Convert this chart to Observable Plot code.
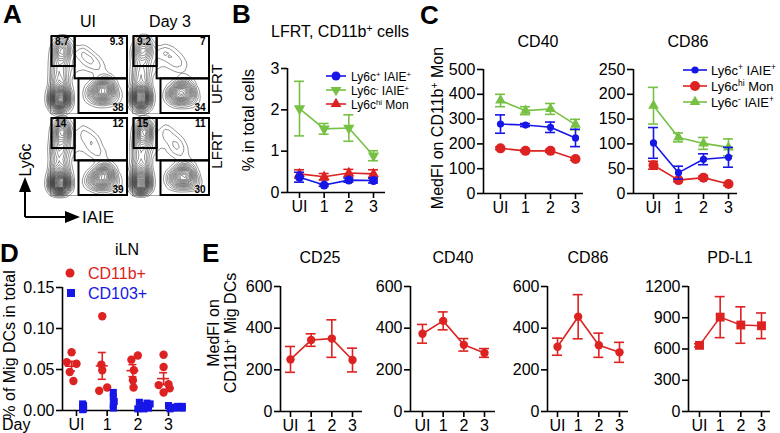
<!DOCTYPE html>
<html><head><meta charset="utf-8">
<script src="https://cdn.jsdelivr.net/npm/d3@7"></script>
<script src="https://cdn.jsdelivr.net/npm/@observablehq/plot@0.6"></script>
<style>
body{margin:0;background:#fff;font-family:"Liberation Sans",Arial,sans-serif;}
#fig{position:relative;width:780px;height:433px;overflow:hidden;background:#fff;}
.abs{position:absolute;}
</style></head>
<body><div id="fig"></div>
<script>
// ---------------- DATA ----------------
const days = ["UI", "1", "2", "3"];
const RED = "#dd2222", BLUE = "#1616e6", GREEN = "#76c144";

// Panel A: flow gates (frequencies) for panels UI/UFRT, Day3/UFRT, UI/LFRT, Day3/LFRT
const flowCols = ["UI", "Day 3"];
const flowRows = ["UFRT", "LFRT"];
const flowPanelCol = ["UI", "Day 3", "UI", "Day 3"];
const flowPanelRow = ["UFRT", "UFRT", "LFRT", "LFRT"];
const gateLy6cHi = ["8.7", "9.2", "14", "15"];
const gateLy6cPosIAIE = ["9.3", "7", "12", "11"];
const gateLy6cNegIAIE = ["38", "34", "39", "30"];
// contour peaks per panel: [IAIE, Ly6c, weight]
const contourPeaks = [
  [[12,14,4],[12,20,4],[12,27,2],[12,35,1.2],[12,44,1],[12,53,1],[12,62,1],[13,71,1.2],[14,80,1.6],[15,88,1.6],
   [60,30,1.5],[68,33,1.8],[75,30,1.6],[66,22,1.4],[55,24,1],[80,22,1],[72,40,1],
   [35,80,0.5],[45,76,0.5],[55,70,0.5],[62,60,0.4],[30,60,0.3],[48,62,0.3]],
  [[11,15,3.6],[11,21,3.6],[11,28,1.8],[11,36,1.1],[11,45,1],[12,54,0.9],[12,63,0.9],[13,72,1.1],[13,81,1.5],[14,89,1.5],
   [56,28,1.4],[64,30,1.6],[71,27,1.5],[62,20,1.3],[52,22,0.9],[76,20,0.9],[68,37,0.9],
   [36,80,0.5],[46,78,0.5],[56,72,0.4],[64,62,0.4],[30,62,0.3],[50,64,0.3]],
  [[12,12,4],[12,18,4],[12,25,2],[12,33,1.2],[12,42,1],[12,51,1],[12,60,1.1],[13,69,1.4],[14,79,2],[14,88,2.2],
   [60,24,1.5],[68,27,1.8],[75,24,1.6],[66,16,1.4],[55,18,1],[80,16,1],[72,34,1],
   [38,82,0.5],[48,76,0.5],[56,68,0.5],[64,54,0.5],[30,62,0.3],[50,60,0.3]],
  [[11,13,3.6],[11,19,3.6],[11,26,1.8],[11,34,1.1],[11,43,1],[12,52,1],[12,61,1.1],[13,70,1.4],[14,80,2],[15,88,2.4],
   [58,26,1.4],[66,28,1.6],[73,25,1.5],[64,18,1.3],[53,20,0.9],[78,18,0.9],[70,36,0.9],
   [40,82,0.5],[50,76,0.5],[58,68,0.5],[64,56,0.5],[30,64,0.3],[52,60,0.3]]
];

// Panel B: LFRT, CD11b+ cells, % in total cells (mean, SEM)
const bLy6cPosIAIE = [0.37, 0.18, 0.30, 0.29], bLy6cPosIAIE_sem = [0.12, 0.03, 0.05, 0.06];
const bLy6cNegIAIE = [2.03, 1.54, 1.56, 0.89], bLy6cNegIAIE_sem = [0.66, 0.13, 0.32, 0.12];
const bLy6cHiMon   = [0.45, 0.38, 0.47, 0.45], bLy6cHiMon_sem   = [0.10, 0.08, 0.09, 0.10];

// Panel C: MedFI on CD11b+ Mon
const cCD40_Ly6cPosIAIE = [280, 276, 267, 224], cCD40_Ly6cPosIAIE_sem = [37, 6, 21, 35];
const cCD40_Ly6cHiMon   = [182, 172, 172, 139], cCD40_Ly6cHiMon_sem   = [5, 4, 6, 5];
const cCD40_Ly6cNegIAIE = [375, 334, 341, 278], cCD40_Ly6cNegIAIE_sem = [25, 16, 22, 21];
const cCD86_Ly6cPosIAIE = [102, 42, 69, 73], cCD86_Ly6cPosIAIE_sem = [31, 13, 11, 20];
const cCD86_Ly6cHiMon   = [57, 27, 32, 19], cCD86_Ly6cHiMon_sem   = [8, 3, 3, 3];
const cCD86_Ly6cNegIAIE = [177, 113, 101, 93], cCD86_Ly6cNegIAIE_sem = [37, 9, 12, 17];

// Panel D: iLN, % of Mig DCs in total (individual mice), with horizontal jitter
const dCD11b = [
  [0.059, 0.071, 0.057, 0.047, 0.036],
  [0.115, 0.056, 0.049, 0.028, 0.024],
  [0.062, 0.067, 0.049, 0.037, 0.028],
  [0.068, 0.053, 0.031, 0.032, 0.022, 0.027]
];
const dCD11bJitter = [
  [-0.16, 0, 0.16, -0.06, 0.06],
  [0, -0.03, 0, 0.16, -0.1],
  [-0.05, 0.16, 0.03, 0, 0.02],
  [0, 0, -0.16, 0.16, 0, 0.2]
];
const dCD103 = [
  [0.008, 0.006, 0.004, 0.002, 0.001],
  [0.022, 0.016, 0.011, 0.007, 0.003],
  [0.010, 0.009, 0.008, 0.006, 0.004, 0.003, 0.002, 0.002],
  [0.006, 0.005, 0.005, 0.004, 0.004, 0.003, 0.003, 0.002]
];
const dCD103Jitter = [
  [0, 0.03, 0, 0.03, 0],
  [0, 0, 0.03, 0, 0],
  [-0.15, 0.1, 0.2, -0.05, 0.05, 0.15, -0.2, 0],
  [-0.2, 0.1, 0.25, -0.1, 0.15, 0, 0.25, -0.15]
];

// Panel E: MedFI on CD11b+ Mig DCs (mean, SEM)
const eCD25 = [250, 343, 350, 247], eCD25_sem = [62, 30, 90, 57];
const eCD40 = [373, 435, 320, 281], eCD40_sem = [45, 43, 30, 21];
const eCD86 = [311, 455, 318, 284], eCD86_sem = [41, 106, 58, 48];
const ePDL1 = [635, 906, 830, 823], ePDL1_sem = [15, 197, 175, 123];

// ---------------- HELPERS ----------------
const fig = document.getElementById("fig");
const FONT = "Liberation Sans, Arial, sans-serif";
const baseStyle = {fontFamily: FONT, fontSize: "16px", color: "#000", background: "none", overflow: "visible"};
function place(svg, left, top) {
  const d = document.createElement("div");
  d.className = "abs"; d.style.left = left + "px"; d.style.top = top + "px";
  d.append(svg); fig.append(d);
}

function chart(cfg) {
  const {left, top, width, height, yAxisPx, axisEndPx, firstPx, lastPx, zeroPy, maxPy,
         yMax, yTicks, yFmt = d3.format("d"), series = [], extra = [], capPx = 5, sw = 1.6} = cfg;
  const ppu = (lastPx - firstPx) / 3;
  const dmin = (yAxisPx - firstPx) / ppu, dmax = (axisEndPx - firstPx) / ppu;
  const cap = capPx / ppu;
  const marks = [
    Plot.ruleX([dmin], {y1: 0, y2: yMax, stroke: "#000", strokeWidth: sw}),
    Plot.ruleY([0], {x1: dmin, x2: dmax, stroke: "#000", strokeWidth: sw}),
    Plot.axisY({ticks: yTicks, tickFormat: yFmt, tickSize: 6, tickPadding: 2, label: null, strokeWidth: sw}),
    Plot.axisX({ticks: [0, 1, 2, 3], tickFormat: i => days[i], tickSize: 6, tickPadding: 2, label: null, strokeWidth: sw})
  ];
  for (const s of series) {
    const data = s.mean.map((m, i) => ({x: i, y: m, lo: m - s.sem[i], hi: m + s.sem[i]}));
    marks.push(
      Plot.ruleX(data, {x: "x", y1: "lo", y2: "hi", stroke: s.color, strokeWidth: sw}),
      Plot.ruleY(data, {y: "hi", x1: d => d.x - cap, x2: d => d.x + cap, stroke: s.color, strokeWidth: sw}),
      Plot.ruleY(data, {y: "lo", x1: d => d.x - cap, x2: d => d.x + cap, stroke: s.color, strokeWidth: sw}),
      Plot.line(data, {x: "x", y: "y", stroke: s.color, strokeWidth: sw}),
      Plot.dot(data, {x: "x", y: "y", fill: s.color, stroke: "none", r: s.r, symbol: s.symbol || "circle", rotate: s.rotate || 0})
    );
  }
  marks.push(...extra.map(f => f(ppu)));
  const svg = Plot.plot({
    width, height,
    marginLeft: yAxisPx - left, marginRight: left + width - axisEndPx,
    marginTop: maxPy - top, marginBottom: top + height - zeroPy,
    x: {domain: [dmin, dmax]}, y: {domain: [0, yMax]},
    style: baseStyle, marks
  });
  place(svg, left, top);
}

// ---------------- PANEL A (flow) ----------------
{
  const blobs = [];
  contourPeaks.forEach((pk, p) => pk.forEach(([x, y, w]) => blobs.push({x, y, w, col: flowPanelCol[p], row: flowPanelRow[p]})));
  const lab = (arr) => arr.map((t, p) => ({t, col: flowPanelCol[p], row: flowPanelRow[p]}));
  const gates = [{x1: 2, x2: 32, y1: 61, y2: 100}, {x1: 32, x2: 100, y1: 45, y2: 100}, {x1: 37, x2: 100, y1: 0, y2: 45}];
  const numStyle = {fx: "col", fy: "row", text: "t", fontSize: 10, fontWeight: "bold", fill: "#000"};
  const svg = Plot.plot({
    width: 160, height: 160, margin: 0,
    x: {domain: [0, 100], axis: null}, y: {domain: [0, 100], axis: null},
    fx: {domain: flowCols, paddingInner: 0.06, paddingOuter: 0, axis: null},
    fy: {domain: flowRows, paddingInner: 0.06, paddingOuter: 0, axis: null},
    style: baseStyle,
    marks: [
      Plot.frame({stroke: "#aaa", strokeWidth: 1}),
      Plot.density(blobs, {x: "x", y: "y", weight: "w", fx: "col", fy: "row", bandwidth: 3.6, thresholds: 30, stroke: "#222", strokeWidth: 0.6, strokeOpacity: 0.8}),
      Plot.rect(gates, {x1: "x1", x2: "x2", y1: "y1", y2: "y2", fill: "none", stroke: "#000", strokeWidth: 2}),
      Plot.text(lab(gateLy6cHi), {...numStyle, x: 6, y: 93, textAnchor: "start"}),
      Plot.text(lab(gateLy6cPosIAIE), {...numStyle, x: 95, y: 93, textAnchor: "end"}),
      Plot.text(lab(gateLy6cNegIAIE), {...numStyle, x: 95, y: 7, textAnchor: "end"})
    ]
  });
  place(svg, 50, 36);
}

// ---------------- PANEL B ----------------
chart({left: 230, top: 0, width: 160, height: 220, yAxisPx: 287, axisEndPx: 385, firstPx: 299, lastPx: 373,
  zeroPy: 192, maxPy: 68, yMax: 3, yTicks: [0, 1, 2, 3], capPx: 5,
  series: [
    {mean: bLy6cNegIAIE, sem: bLy6cNegIAIE_sem, color: GREEN, r: 4.2, symbol: "triangle", rotate: 180},
    {mean: bLy6cHiMon, sem: bLy6cHiMon_sem, color: RED, r: 4, symbol: "triangle"},
    {mean: bLy6cPosIAIE, sem: bLy6cPosIAIE_sem, color: BLUE, r: 4.5}
  ]});

// ---------------- PANEL C ----------------
chart({left: 420, top: 0, width: 170, height: 220, yAxisPx: 483, axisEndPx: 583, firstPx: 500, lastPx: 575,
  zeroPy: 193, maxPy: 69, yMax: 500, yTicks: [0, 100, 200, 300, 400, 500], capPx: 5,
  series: [
    {mean: cCD40_Ly6cNegIAIE, sem: cCD40_Ly6cNegIAIE_sem, color: GREEN, r: 4, symbol: "triangle"},
    {mean: cCD40_Ly6cHiMon, sem: cCD40_Ly6cHiMon_sem, color: RED, r: 5},
    {mean: cCD40_Ly6cPosIAIE, sem: cCD40_Ly6cPosIAIE_sem, color: BLUE, r: 3.6}
  ]});
chart({left: 590, top: 0, width: 160, height: 220, yAxisPx: 633, axisEndPx: 737, firstPx: 653, lastPx: 728,
  zeroPy: 193, maxPy: 69, yMax: 250, yTicks: [0, 50, 100, 150, 200, 250], capPx: 5,
  series: [
    {mean: cCD86_Ly6cNegIAIE, sem: cCD86_Ly6cNegIAIE_sem, color: GREEN, r: 4, symbol: "triangle"},
    {mean: cCD86_Ly6cHiMon, sem: cCD86_Ly6cHiMon_sem, color: RED, r: 5},
    {mean: cCD86_Ly6cPosIAIE, sem: cCD86_Ly6cPosIAIE_sem, color: BLUE, r: 3.6}
  ]});

// ---------------- PANEL D ----------------
{
  const red = [], blue = [], stats = [];
  dCD11b.forEach((vals, i) => {
    vals.forEach((v, k) => red.push({x: i - 0.16 + dCD11bJitter[i][k], y: v}));
    const m = d3.mean(vals), sem = d3.deviation(vals) / Math.sqrt(vals.length);
    stats.push({x: i - 0.16, m, lo: m - sem, hi: m + sem});
  });
  dCD103.forEach((vals, i) => vals.forEach((v, k) => blue.push({x: i + 0.2 + dCD103Jitter[i][k], y: v})));
  chart({left: 0, top: 230, width: 200, height: 203, yAxisPx: 62, axisEndPx: 185, firstPx: 76, lastPx: 168,
    zeroPy: 410, maxPy: 287, yMax: 0.15, yTicks: [0, 0.05, 0.10, 0.15], yFmt: d3.format(".2f"),
    extra: [
      () => Plot.dot(red, {x: "x", y: "y", r: 4.2, fill: RED}),
      () => Plot.dot(blue, {x: "x", y: "y", r: 4, symbol: "square", fill: BLUE}),
      () => Plot.ruleX(stats, {x: "x", y1: "lo", y2: "hi", stroke: RED, strokeWidth: 1.6}),
      (ppu) => Plot.ruleY(stats, {y: "m", x1: d => d.x - 6 / ppu, x2: d => d.x + 6 / ppu, stroke: RED, strokeWidth: 1.6}),
      (ppu) => Plot.ruleY(stats, {y: "hi", x1: d => d.x - 4 / ppu, x2: d => d.x + 4 / ppu, stroke: RED, strokeWidth: 1.6}),
      (ppu) => Plot.ruleY(stats, {y: "lo", x1: d => d.x - 4 / ppu, x2: d => d.x + 4 / ppu, stroke: RED, strokeWidth: 1.6})
    ]});
}

// ---------------- PANEL E ----------------
const eCfg = {top: 240, height: 193, zeroPy: 411, maxPy: 286, capPx: 5};
chart({...eCfg, left: 230, width: 140, yAxisPx: 280, axisEndPx: 362, firstPx: 290, lastPx: 352,
  yMax: 600, yTicks: [0, 200, 400, 600], series: [{mean: eCD25, sem: eCD25_sem, color: RED, r: 4.2}]});
chart({...eCfg, left: 370, width: 130, yAxisPx: 410, axisEndPx: 495, firstPx: 422, lastPx: 484,
  yMax: 600, yTicks: [0, 200, 400, 600], series: [{mean: eCD40, sem: eCD40_sem, color: RED, r: 4.2}]});
chart({...eCfg, left: 500, width: 135, yAxisPx: 547, axisEndPx: 628, firstPx: 557, lastPx: 619,
  yMax: 600, yTicks: [0, 200, 400, 600], series: [{mean: eCD86, sem: eCD86_sem, color: RED, r: 4.2}]});
chart({...eCfg, left: 635, width: 140, yAxisPx: 688, axisEndPx: 770, firstPx: 699, lastPx: 761,
  yMax: 1200, yTicks: [0, 300, 600, 900, 1200], series: [{mean: ePDL1, sem: ePDL1_sem, color: RED, r: 5, symbol: "square"}]});

// ---------------- TEXT / LEGEND OVERLAY ----------------
const ov = d3.select(fig).append("svg").attr("width", 780).attr("height", 433)
  .style("position", "absolute").style("left", 0).style("top", 0).style("font-family", FONT);
function T(x, y, parts, o = {}) {
  const t = ov.append("text").attr("x", x).attr("y", y)
    .attr("font-size", o.size || 16).attr("text-anchor", o.anchor || "start")
    .attr("fill", o.fill || "#000").attr("font-weight", o.weight || "normal");
  if (o.rotate) t.attr("transform", `rotate(${o.rotate},${x},${y})`);
  (typeof parts === "string" ? [[parts]] : parts).forEach(([s, k]) => {
    const ts = t.append("tspan").text(s);
    if (k === "sup") ts.attr("baseline-shift", "super").attr("font-size", "65%");
  });
}
function sym(x, y, color, type, r, rot = 0) {
  if (type === "circle") ov.append("circle").attr("cx", x).attr("cy", y).attr("r", r).attr("fill", color);
  else {
    const t = type === "square" ? d3.symbolSquare : d3.symbolTriangle;
    ov.append("path").attr("d", d3.symbol(t, Math.PI * r * r)()).attr("fill", color)
      .attr("transform", `translate(${x},${y}) rotate(${rot})`);
  }
}
function legendRow(x1, x2, y, color, type, r, rot, parts, tx, size) {
  ov.append("line").attr("x1", x1).attr("x2", x2).attr("y1", y).attr("y2", y).attr("stroke", color).attr("stroke-width", 1.6);
  sym((x1 + x2) / 2, y, color, type, r, rot);
  T(tx, y + 4.5, parts, {size});
}
// letters
[["A", 3, 23], ["B", 232, 23], ["C", 420, 24], ["D", 0, 262], ["E", 202, 262]]
  .forEach(([l, x, y]) => T(x, y, l, {size: 26, weight: "bold"}));
// A
T(88, 27, "UI", {anchor: "middle"});
T(170, 27, "Day 3", {anchor: "middle"});
T(222, 84, "UFRT", {anchor: "middle", rotate: -90, size: 15});
T(222, 150, "LFRT", {anchor: "middle", rotate: -90, size: 15});
T(31, 160, "Ly6c", {anchor: "middle", rotate: -90, size: 16});
T(82, 223, "IAIE", {size: 17});
ov.append("path").attr("d", "M25,217 V190 M25,217 H66").attr("stroke", "#000").attr("stroke-width", 2).attr("fill", "none");
ov.append("path").attr("d", "M25,177 L19,192 L31,192 Z M80,217 L65,211 L65,223 Z").attr("fill", "#000");
// B
T(340, 37, [["LFRT, CD11b"], ["+", "sup"], [" cells"]], {anchor: "middle"});
T(254, 120, "% in total cells", {anchor: "middle", rotate: -90});
legendRow(326, 346, 76, BLUE, "circle", 4.5, 0, [["Ly6c"], ["+", "sup"], [" IAIE"], ["+", "sup"]], 351, 12);
legendRow(326, 346, 90, GREEN, "triangle", 4, 180, [["Ly6c"], ["-", "sup"], [" IAIE"], ["+", "sup"]], 351, 12);
legendRow(326, 346, 104, RED, "triangle", 4, 0, [["Ly6c"], ["hi", "sup"], [" Mon"]], 351, 12);
// C
T(538, 47, "CD40", {anchor: "middle"});
T(688, 47, "CD86", {anchor: "middle"});
T(443, 128, [["MedFI on CD11b"], ["+", "sup"], [" Mon"]], {anchor: "middle", rotate: -90});
legendRow(683, 707, 70, BLUE, "circle", 3.6, 0, [["Ly6c"], ["+", "sup"], [" IAIE"], ["+", "sup"]], 711, 13);
legendRow(683, 707, 86, RED, "circle", 5, 0, [["Ly6c"], ["hi", "sup"], [" Mon"]], 711, 13);
legendRow(683, 707, 102, GREEN, "triangle", 4, 0, [["Ly6c"], ["-", "sup"], [" IAIE"], ["+", "sup"]], 711, 13);
// D
T(127, 255, "iLN", {anchor: "middle"});
T(15, 345, "% of Mig DCs in total", {anchor: "middle", rotate: -90});
sym(70, 273, RED, "circle", 4.5);
T(88, 279, "CD11b+", {fill: RED});
sym(71, 293, BLUE, "square", 4.5);
T(88, 299, "CD103+", {fill: BLUE});
T(2, 430, "Day");
// E
T(320, 263, "CD25", {anchor: "middle"});
T(453, 263, "CD40", {anchor: "middle"});
T(588, 263, "CD86", {anchor: "middle"});
T(730, 263, "PD-L1", {anchor: "middle"});
T(219, 333, "MedFI on", {anchor: "middle", rotate: -90});
T(236, 333, [["CD11b"], ["+", "sup"], [" Mig DCs"]], {anchor: "middle", rotate: -90});
</script>
</body></html>
